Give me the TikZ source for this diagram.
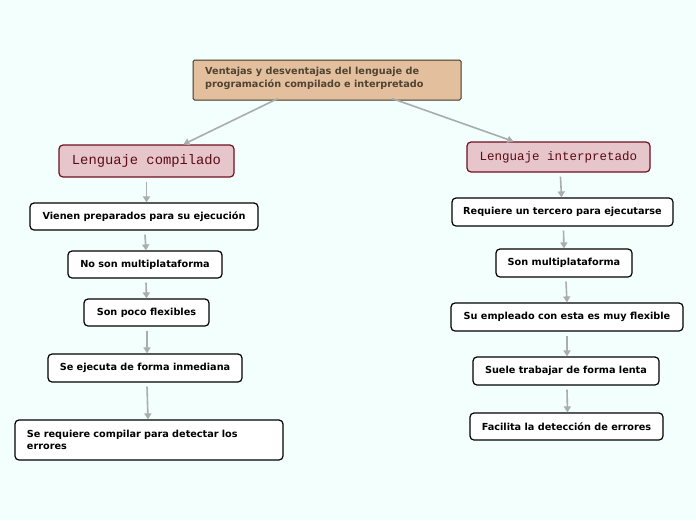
\documentclass[tikz,border=0pt]{standalone}
\usepackage{fontspec}
\setmainfont{DejaVu Sans}
\newfontfamily\monof{Liberation Mono}
\usetikzlibrary{arrows.meta}
\definecolor{bg}{HTML}{F2FFFC}
\definecolor{titlefill}{HTML}{E3BF9E}
\definecolor{titletext}{HTML}{4F4431}
\definecolor{subfill}{HTML}{E6C6CB}
\definecolor{subdraw}{HTML}{6E1020}
\definecolor{subtext}{HTML}{5A0A14}
\definecolor{conn}{HTML}{A9ADAB}
\tikzset{
  leaf/.style={draw=black, line width=1.2pt, fill=white, rounded corners=4pt, inner sep=0pt,
    font=\fontsize{9.7}{12}\selectfont\bfseries},
  sub/.style={draw=subdraw, line width=1.2pt, fill=subfill, rounded corners=4pt, inner sep=0pt, text=subtext},
  titlebox/.style={draw=titletext!80!black, line width=1pt, fill=titlefill, rounded corners=1.5pt, inner sep=0pt},
  link/.style={draw=conn, line width=1.6pt, -{Triangle[length=6pt,width=7pt]}},
}
\begin{document}
\begin{tikzpicture}[x=1pt,y=-1pt]
\fill[bg] (0,0) rectangle (696,520);
\useasboundingbox (0,0) rectangle (696,520);

\node[titlebox, minimum width=268pt, minimum height=40pt] (t) at (327,80) {};
\node[anchor=north west, inner sep=0pt, text=titletext, align=left, font=\fontsize{9.7}{13}\selectfont\bfseries] (tt) at (205,67) {Ventajas y desventajas del lenguaje de\\programación compilado e interpretado};

\node[sub, minimum width=175pt, minimum height=32pt, font=\monof\fontsize{13.8}{16}\selectfont] (lc) at (146.5,161) {Lenguaje compilado};
\node[sub, minimum width=183pt, minimum height=30pt, font=\monof\fontsize{12.5}{15}\selectfont] (li) at (558.5,157) {Lenguaje interpretado};

\node[leaf, minimum width=228pt, minimum height=27pt] (l1) at (144,216.5) {Vienen preparados para su ejecución};
\node[leaf, minimum width=154pt, minimum height=27pt] (l2) at (145,264.5) {No son multiplataforma};
\node[leaf, minimum width=125pt, minimum height=27pt] (l3) at (146.5,312.5) {Son poco flexibles};
\node[leaf, minimum width=194pt, minimum height=28pt] (l4) at (145,368) {Se ejecuta de forma inmediana};
\node[leaf, minimum width=268pt, minimum height=40pt, text width=244pt, align=left] (l5) at (149,440) {Se requiere compilar para detectar los\\errores};

\node[leaf, minimum width=221pt, minimum height=28pt] (r1) at (562.5,212) {Requiere un tercero para ejecutarse};
\node[leaf, minimum width=136pt, minimum height=28pt] (r2) at (564,263) {Son multiplataforma};
\node[leaf, minimum width=232pt, minimum height=28pt] (r3) at (567,317) {Su empleado con esta es muy flexible};
\node[leaf, minimum width=186pt, minimum height=28pt] (r4) at (566,371) {Suele trabajar de forma lenta};
\node[leaf, minimum width=193pt, minimum height=27pt] (r5) at (566.5,426.5) {Facilita la detección de errores};

\draw[link] ([xshift=-49pt,yshift=2pt]t.south) -- ([xshift=125pt]lc.north west);
\draw[link] ([xshift=65pt,yshift=2pt]t.south) -- ([xshift=47pt]li.north west);

\draw[link] ([yshift=-4pt]lc.south) -- (l1.north -| lc.south);
\draw[link] ([xshift=1pt,yshift=-4pt]l1.south) -- ([xshift=1pt]l2.north);
\draw[link] ([xshift=1pt,yshift=-4pt]l2.south) -- ([xshift=0pt]l3.north);
\draw[link] ([xshift=0.5pt,yshift=-4pt]l3.south) -- ([xshift=2pt]l4.north);
\draw[link] ([xshift=2pt,yshift=-4pt]l4.south) -- ([xshift=-1pt]l5.north);

\draw[link] ([xshift=2pt,yshift=-4pt]li.south) -- ([xshift=-1pt]r1.north);
\draw[link] ([xshift=1pt,yshift=-4pt]r1.south) -- ([xshift=0pt]r2.north);
\draw[link] ([xshift=2pt,yshift=-4pt]r2.south) -- ([xshift=0pt]r3.north);
\draw[link] ([xshift=0pt,yshift=-4pt]r3.south) -- ([xshift=1pt]r4.north);
\draw[link] ([xshift=1pt,yshift=-4pt]r4.south) -- ([xshift=1pt]r5.north);
\end{tikzpicture}
\end{document}
